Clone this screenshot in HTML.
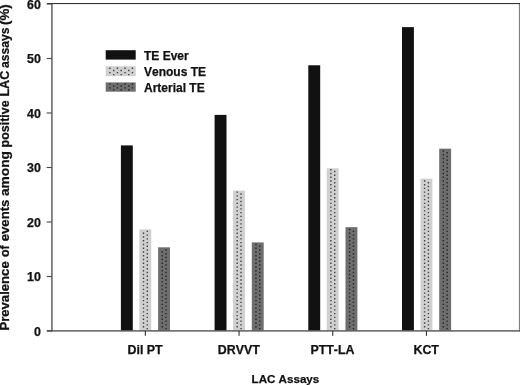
<!DOCTYPE html>
<html><head><meta charset="utf-8"><title>chart</title>
<style>
html,body{margin:0;padding:0;background:#fff;}
body{width:520px;height:385px;overflow:hidden;}
svg{display:block;filter:blur(0.35px);}
text{font-family:"Liberation Sans",sans-serif;font-weight:bold;fill:#111;stroke:#111;stroke-width:0.25px;font-kerning:none;}
.t{font-size:12px;}
</style></head><body>
<svg width="520" height="385" viewBox="0 0 520 385">
<rect width="520" height="385" fill="#fff"/>
<g id="bars">
<rect x="120.90" y="145.40" width="11.9" height="185.30" fill="#111"/>
<rect x="139.35" y="229.33" width="11.9" height="101.37" fill="#d0d0d0"/>
<rect x="158.10" y="247.31" width="11.9" height="83.38" fill="#6e6e6e"/>
<rect x="214.60" y="114.88" width="11.9" height="215.82" fill="#111"/>
<rect x="233.05" y="190.63" width="11.9" height="140.06" fill="#d0d0d0"/>
<rect x="251.80" y="242.41" width="11.9" height="88.29" fill="#6e6e6e"/>
<rect x="308.30" y="65.28" width="11.9" height="265.42" fill="#111"/>
<rect x="326.75" y="168.29" width="11.9" height="162.41" fill="#d0d0d0"/>
<rect x="345.50" y="227.15" width="11.9" height="103.55" fill="#6e6e6e"/>
<rect x="402.00" y="27.13" width="11.9" height="303.56" fill="#111"/>
<rect x="420.45" y="178.64" width="11.9" height="152.06" fill="#d0d0d0"/>
<rect x="439.20" y="148.67" width="11.9" height="182.03" fill="#6e6e6e"/>
</g>
<!-- legend swatches -->
<rect x="105.7" y="50.2" width="30" height="9.4" fill="#111"/>
<rect x="105.7" y="66.2" width="30" height="9.9" fill="#d0d0d0"/>
<rect x="105.7" y="82.4" width="30" height="9.3" fill="#6e6e6e"/>
<path fill="#404040" d="M142.80 326.10h1.4v1.4h-1.4zM142.80 322.36h1.4v1.4h-1.4zM142.80 318.62h1.4v1.4h-1.4zM142.80 314.88h1.4v1.4h-1.4zM142.80 311.14h1.4v1.4h-1.4zM142.80 307.40h1.4v1.4h-1.4zM142.80 303.66h1.4v1.4h-1.4zM142.80 299.92h1.4v1.4h-1.4zM142.80 296.18h1.4v1.4h-1.4zM142.80 292.44h1.4v1.4h-1.4zM142.80 288.70h1.4v1.4h-1.4zM142.80 284.96h1.4v1.4h-1.4zM142.80 281.22h1.4v1.4h-1.4zM142.80 277.48h1.4v1.4h-1.4zM142.80 273.74h1.4v1.4h-1.4zM142.80 270.00h1.4v1.4h-1.4zM142.80 266.26h1.4v1.4h-1.4zM142.80 262.52h1.4v1.4h-1.4zM142.80 258.78h1.4v1.4h-1.4zM142.80 255.04h1.4v1.4h-1.4zM142.80 251.30h1.4v1.4h-1.4zM142.80 247.56h1.4v1.4h-1.4zM142.80 243.82h1.4v1.4h-1.4zM142.80 240.08h1.4v1.4h-1.4zM142.80 236.34h1.4v1.4h-1.4zM142.80 232.60h1.4v1.4h-1.4zM146.60 327.90h1.4v1.4h-1.4zM146.60 324.16h1.4v1.4h-1.4zM146.60 320.42h1.4v1.4h-1.4zM146.60 316.68h1.4v1.4h-1.4zM146.60 312.94h1.4v1.4h-1.4zM146.60 309.20h1.4v1.4h-1.4zM146.60 305.46h1.4v1.4h-1.4zM146.60 301.72h1.4v1.4h-1.4zM146.60 297.98h1.4v1.4h-1.4zM146.60 294.24h1.4v1.4h-1.4zM146.60 290.50h1.4v1.4h-1.4zM146.60 286.76h1.4v1.4h-1.4zM146.60 283.02h1.4v1.4h-1.4zM146.60 279.28h1.4v1.4h-1.4zM146.60 275.54h1.4v1.4h-1.4zM146.60 271.80h1.4v1.4h-1.4zM146.60 268.06h1.4v1.4h-1.4zM146.60 264.32h1.4v1.4h-1.4zM146.60 260.58h1.4v1.4h-1.4zM146.60 256.84h1.4v1.4h-1.4zM146.60 253.10h1.4v1.4h-1.4zM146.60 249.36h1.4v1.4h-1.4zM146.60 245.62h1.4v1.4h-1.4zM146.60 241.88h1.4v1.4h-1.4zM146.60 238.14h1.4v1.4h-1.4zM146.60 234.40h1.4v1.4h-1.4zM146.60 230.66h1.4v1.4h-1.4zM236.50 326.10h1.4v1.4h-1.4zM236.50 322.36h1.4v1.4h-1.4zM236.50 318.62h1.4v1.4h-1.4zM236.50 314.88h1.4v1.4h-1.4zM236.50 311.14h1.4v1.4h-1.4zM236.50 307.40h1.4v1.4h-1.4zM236.50 303.66h1.4v1.4h-1.4zM236.50 299.92h1.4v1.4h-1.4zM236.50 296.18h1.4v1.4h-1.4zM236.50 292.44h1.4v1.4h-1.4zM236.50 288.70h1.4v1.4h-1.4zM236.50 284.96h1.4v1.4h-1.4zM236.50 281.22h1.4v1.4h-1.4zM236.50 277.48h1.4v1.4h-1.4zM236.50 273.74h1.4v1.4h-1.4zM236.50 270.00h1.4v1.4h-1.4zM236.50 266.26h1.4v1.4h-1.4zM236.50 262.52h1.4v1.4h-1.4zM236.50 258.78h1.4v1.4h-1.4zM236.50 255.04h1.4v1.4h-1.4zM236.50 251.30h1.4v1.4h-1.4zM236.50 247.56h1.4v1.4h-1.4zM236.50 243.82h1.4v1.4h-1.4zM236.50 240.08h1.4v1.4h-1.4zM236.50 236.34h1.4v1.4h-1.4zM236.50 232.60h1.4v1.4h-1.4zM236.50 228.86h1.4v1.4h-1.4zM236.50 225.12h1.4v1.4h-1.4zM236.50 221.38h1.4v1.4h-1.4zM236.50 217.64h1.4v1.4h-1.4zM236.50 213.90h1.4v1.4h-1.4zM236.50 210.16h1.4v1.4h-1.4zM236.50 206.42h1.4v1.4h-1.4zM236.50 202.68h1.4v1.4h-1.4zM236.50 198.94h1.4v1.4h-1.4zM236.50 195.20h1.4v1.4h-1.4zM236.50 191.46h1.4v1.4h-1.4zM240.30 327.90h1.4v1.4h-1.4zM240.30 324.16h1.4v1.4h-1.4zM240.30 320.42h1.4v1.4h-1.4zM240.30 316.68h1.4v1.4h-1.4zM240.30 312.94h1.4v1.4h-1.4zM240.30 309.20h1.4v1.4h-1.4zM240.30 305.46h1.4v1.4h-1.4zM240.30 301.72h1.4v1.4h-1.4zM240.30 297.98h1.4v1.4h-1.4zM240.30 294.24h1.4v1.4h-1.4zM240.30 290.50h1.4v1.4h-1.4zM240.30 286.76h1.4v1.4h-1.4zM240.30 283.02h1.4v1.4h-1.4zM240.30 279.28h1.4v1.4h-1.4zM240.30 275.54h1.4v1.4h-1.4zM240.30 271.80h1.4v1.4h-1.4zM240.30 268.06h1.4v1.4h-1.4zM240.30 264.32h1.4v1.4h-1.4zM240.30 260.58h1.4v1.4h-1.4zM240.30 256.84h1.4v1.4h-1.4zM240.30 253.10h1.4v1.4h-1.4zM240.30 249.36h1.4v1.4h-1.4zM240.30 245.62h1.4v1.4h-1.4zM240.30 241.88h1.4v1.4h-1.4zM240.30 238.14h1.4v1.4h-1.4zM240.30 234.40h1.4v1.4h-1.4zM240.30 230.66h1.4v1.4h-1.4zM240.30 226.92h1.4v1.4h-1.4zM240.30 223.18h1.4v1.4h-1.4zM240.30 219.44h1.4v1.4h-1.4zM240.30 215.70h1.4v1.4h-1.4zM240.30 211.96h1.4v1.4h-1.4zM240.30 208.22h1.4v1.4h-1.4zM240.30 204.48h1.4v1.4h-1.4zM240.30 200.74h1.4v1.4h-1.4zM240.30 197.00h1.4v1.4h-1.4zM240.30 193.26h1.4v1.4h-1.4zM330.20 326.10h1.4v1.4h-1.4zM330.20 322.36h1.4v1.4h-1.4zM330.20 318.62h1.4v1.4h-1.4zM330.20 314.88h1.4v1.4h-1.4zM330.20 311.14h1.4v1.4h-1.4zM330.20 307.40h1.4v1.4h-1.4zM330.20 303.66h1.4v1.4h-1.4zM330.20 299.92h1.4v1.4h-1.4zM330.20 296.18h1.4v1.4h-1.4zM330.20 292.44h1.4v1.4h-1.4zM330.20 288.70h1.4v1.4h-1.4zM330.20 284.96h1.4v1.4h-1.4zM330.20 281.22h1.4v1.4h-1.4zM330.20 277.48h1.4v1.4h-1.4zM330.20 273.74h1.4v1.4h-1.4zM330.20 270.00h1.4v1.4h-1.4zM330.20 266.26h1.4v1.4h-1.4zM330.20 262.52h1.4v1.4h-1.4zM330.20 258.78h1.4v1.4h-1.4zM330.20 255.04h1.4v1.4h-1.4zM330.20 251.30h1.4v1.4h-1.4zM330.20 247.56h1.4v1.4h-1.4zM330.20 243.82h1.4v1.4h-1.4zM330.20 240.08h1.4v1.4h-1.4zM330.20 236.34h1.4v1.4h-1.4zM330.20 232.60h1.4v1.4h-1.4zM330.20 228.86h1.4v1.4h-1.4zM330.20 225.12h1.4v1.4h-1.4zM330.20 221.38h1.4v1.4h-1.4zM330.20 217.64h1.4v1.4h-1.4zM330.20 213.90h1.4v1.4h-1.4zM330.20 210.16h1.4v1.4h-1.4zM330.20 206.42h1.4v1.4h-1.4zM330.20 202.68h1.4v1.4h-1.4zM330.20 198.94h1.4v1.4h-1.4zM330.20 195.20h1.4v1.4h-1.4zM330.20 191.46h1.4v1.4h-1.4zM330.20 187.72h1.4v1.4h-1.4zM330.20 183.98h1.4v1.4h-1.4zM330.20 180.24h1.4v1.4h-1.4zM330.20 176.50h1.4v1.4h-1.4zM330.20 172.76h1.4v1.4h-1.4zM330.20 169.02h1.4v1.4h-1.4zM334.00 327.90h1.4v1.4h-1.4zM334.00 324.16h1.4v1.4h-1.4zM334.00 320.42h1.4v1.4h-1.4zM334.00 316.68h1.4v1.4h-1.4zM334.00 312.94h1.4v1.4h-1.4zM334.00 309.20h1.4v1.4h-1.4zM334.00 305.46h1.4v1.4h-1.4zM334.00 301.72h1.4v1.4h-1.4zM334.00 297.98h1.4v1.4h-1.4zM334.00 294.24h1.4v1.4h-1.4zM334.00 290.50h1.4v1.4h-1.4zM334.00 286.76h1.4v1.4h-1.4zM334.00 283.02h1.4v1.4h-1.4zM334.00 279.28h1.4v1.4h-1.4zM334.00 275.54h1.4v1.4h-1.4zM334.00 271.80h1.4v1.4h-1.4zM334.00 268.06h1.4v1.4h-1.4zM334.00 264.32h1.4v1.4h-1.4zM334.00 260.58h1.4v1.4h-1.4zM334.00 256.84h1.4v1.4h-1.4zM334.00 253.10h1.4v1.4h-1.4zM334.00 249.36h1.4v1.4h-1.4zM334.00 245.62h1.4v1.4h-1.4zM334.00 241.88h1.4v1.4h-1.4zM334.00 238.14h1.4v1.4h-1.4zM334.00 234.40h1.4v1.4h-1.4zM334.00 230.66h1.4v1.4h-1.4zM334.00 226.92h1.4v1.4h-1.4zM334.00 223.18h1.4v1.4h-1.4zM334.00 219.44h1.4v1.4h-1.4zM334.00 215.70h1.4v1.4h-1.4zM334.00 211.96h1.4v1.4h-1.4zM334.00 208.22h1.4v1.4h-1.4zM334.00 204.48h1.4v1.4h-1.4zM334.00 200.74h1.4v1.4h-1.4zM334.00 197.00h1.4v1.4h-1.4zM334.00 193.26h1.4v1.4h-1.4zM334.00 189.52h1.4v1.4h-1.4zM334.00 185.78h1.4v1.4h-1.4zM334.00 182.04h1.4v1.4h-1.4zM334.00 178.30h1.4v1.4h-1.4zM334.00 174.56h1.4v1.4h-1.4zM334.00 170.82h1.4v1.4h-1.4zM423.90 326.10h1.4v1.4h-1.4zM423.90 322.36h1.4v1.4h-1.4zM423.90 318.62h1.4v1.4h-1.4zM423.90 314.88h1.4v1.4h-1.4zM423.90 311.14h1.4v1.4h-1.4zM423.90 307.40h1.4v1.4h-1.4zM423.90 303.66h1.4v1.4h-1.4zM423.90 299.92h1.4v1.4h-1.4zM423.90 296.18h1.4v1.4h-1.4zM423.90 292.44h1.4v1.4h-1.4zM423.90 288.70h1.4v1.4h-1.4zM423.90 284.96h1.4v1.4h-1.4zM423.90 281.22h1.4v1.4h-1.4zM423.90 277.48h1.4v1.4h-1.4zM423.90 273.74h1.4v1.4h-1.4zM423.90 270.00h1.4v1.4h-1.4zM423.90 266.26h1.4v1.4h-1.4zM423.90 262.52h1.4v1.4h-1.4zM423.90 258.78h1.4v1.4h-1.4zM423.90 255.04h1.4v1.4h-1.4zM423.90 251.30h1.4v1.4h-1.4zM423.90 247.56h1.4v1.4h-1.4zM423.90 243.82h1.4v1.4h-1.4zM423.90 240.08h1.4v1.4h-1.4zM423.90 236.34h1.4v1.4h-1.4zM423.90 232.60h1.4v1.4h-1.4zM423.90 228.86h1.4v1.4h-1.4zM423.90 225.12h1.4v1.4h-1.4zM423.90 221.38h1.4v1.4h-1.4zM423.90 217.64h1.4v1.4h-1.4zM423.90 213.90h1.4v1.4h-1.4zM423.90 210.16h1.4v1.4h-1.4zM423.90 206.42h1.4v1.4h-1.4zM423.90 202.68h1.4v1.4h-1.4zM423.90 198.94h1.4v1.4h-1.4zM423.90 195.20h1.4v1.4h-1.4zM423.90 191.46h1.4v1.4h-1.4zM423.90 187.72h1.4v1.4h-1.4zM423.90 183.98h1.4v1.4h-1.4zM423.90 180.24h1.4v1.4h-1.4zM427.70 327.90h1.4v1.4h-1.4zM427.70 324.16h1.4v1.4h-1.4zM427.70 320.42h1.4v1.4h-1.4zM427.70 316.68h1.4v1.4h-1.4zM427.70 312.94h1.4v1.4h-1.4zM427.70 309.20h1.4v1.4h-1.4zM427.70 305.46h1.4v1.4h-1.4zM427.70 301.72h1.4v1.4h-1.4zM427.70 297.98h1.4v1.4h-1.4zM427.70 294.24h1.4v1.4h-1.4zM427.70 290.50h1.4v1.4h-1.4zM427.70 286.76h1.4v1.4h-1.4zM427.70 283.02h1.4v1.4h-1.4zM427.70 279.28h1.4v1.4h-1.4zM427.70 275.54h1.4v1.4h-1.4zM427.70 271.80h1.4v1.4h-1.4zM427.70 268.06h1.4v1.4h-1.4zM427.70 264.32h1.4v1.4h-1.4zM427.70 260.58h1.4v1.4h-1.4zM427.70 256.84h1.4v1.4h-1.4zM427.70 253.10h1.4v1.4h-1.4zM427.70 249.36h1.4v1.4h-1.4zM427.70 245.62h1.4v1.4h-1.4zM427.70 241.88h1.4v1.4h-1.4zM427.70 238.14h1.4v1.4h-1.4zM427.70 234.40h1.4v1.4h-1.4zM427.70 230.66h1.4v1.4h-1.4zM427.70 226.92h1.4v1.4h-1.4zM427.70 223.18h1.4v1.4h-1.4zM427.70 219.44h1.4v1.4h-1.4zM427.70 215.70h1.4v1.4h-1.4zM427.70 211.96h1.4v1.4h-1.4zM427.70 208.22h1.4v1.4h-1.4zM427.70 204.48h1.4v1.4h-1.4zM427.70 200.74h1.4v1.4h-1.4zM427.70 197.00h1.4v1.4h-1.4zM427.70 193.26h1.4v1.4h-1.4zM427.70 189.52h1.4v1.4h-1.4zM427.70 185.78h1.4v1.4h-1.4zM427.70 182.04h1.4v1.4h-1.4zM109.20 67.50h1.4v1.4h-1.4zM116.75 67.50h1.4v1.4h-1.4zM124.30 67.50h1.4v1.4h-1.4zM131.75 67.50h1.4v1.4h-1.4zM113.00 69.80h1.4v1.4h-1.4zM120.55 69.80h1.4v1.4h-1.4zM128.05 69.80h1.4v1.4h-1.4zM109.20 71.90h1.4v1.4h-1.4zM116.75 71.90h1.4v1.4h-1.4zM124.30 71.90h1.4v1.4h-1.4zM131.75 71.90h1.4v1.4h-1.4zM113.00 73.90h1.4v1.4h-1.4zM120.55 73.90h1.4v1.4h-1.4zM128.05 73.90h1.4v1.4h-1.4z"/>
<path fill="#262626" d="M161.55 326.10h1.4v1.4h-1.4zM161.55 322.36h1.4v1.4h-1.4zM161.55 318.62h1.4v1.4h-1.4zM161.55 314.88h1.4v1.4h-1.4zM161.55 311.14h1.4v1.4h-1.4zM161.55 307.40h1.4v1.4h-1.4zM161.55 303.66h1.4v1.4h-1.4zM161.55 299.92h1.4v1.4h-1.4zM161.55 296.18h1.4v1.4h-1.4zM161.55 292.44h1.4v1.4h-1.4zM161.55 288.70h1.4v1.4h-1.4zM161.55 284.96h1.4v1.4h-1.4zM161.55 281.22h1.4v1.4h-1.4zM161.55 277.48h1.4v1.4h-1.4zM161.55 273.74h1.4v1.4h-1.4zM161.55 270.00h1.4v1.4h-1.4zM161.55 266.26h1.4v1.4h-1.4zM161.55 262.52h1.4v1.4h-1.4zM161.55 258.78h1.4v1.4h-1.4zM161.55 255.04h1.4v1.4h-1.4zM161.55 251.30h1.4v1.4h-1.4zM165.35 327.90h1.4v1.4h-1.4zM165.35 324.16h1.4v1.4h-1.4zM165.35 320.42h1.4v1.4h-1.4zM165.35 316.68h1.4v1.4h-1.4zM165.35 312.94h1.4v1.4h-1.4zM165.35 309.20h1.4v1.4h-1.4zM165.35 305.46h1.4v1.4h-1.4zM165.35 301.72h1.4v1.4h-1.4zM165.35 297.98h1.4v1.4h-1.4zM165.35 294.24h1.4v1.4h-1.4zM165.35 290.50h1.4v1.4h-1.4zM165.35 286.76h1.4v1.4h-1.4zM165.35 283.02h1.4v1.4h-1.4zM165.35 279.28h1.4v1.4h-1.4zM165.35 275.54h1.4v1.4h-1.4zM165.35 271.80h1.4v1.4h-1.4zM165.35 268.06h1.4v1.4h-1.4zM165.35 264.32h1.4v1.4h-1.4zM165.35 260.58h1.4v1.4h-1.4zM165.35 256.84h1.4v1.4h-1.4zM165.35 253.10h1.4v1.4h-1.4zM165.35 249.36h1.4v1.4h-1.4zM255.25 326.10h1.4v1.4h-1.4zM255.25 322.36h1.4v1.4h-1.4zM255.25 318.62h1.4v1.4h-1.4zM255.25 314.88h1.4v1.4h-1.4zM255.25 311.14h1.4v1.4h-1.4zM255.25 307.40h1.4v1.4h-1.4zM255.25 303.66h1.4v1.4h-1.4zM255.25 299.92h1.4v1.4h-1.4zM255.25 296.18h1.4v1.4h-1.4zM255.25 292.44h1.4v1.4h-1.4zM255.25 288.70h1.4v1.4h-1.4zM255.25 284.96h1.4v1.4h-1.4zM255.25 281.22h1.4v1.4h-1.4zM255.25 277.48h1.4v1.4h-1.4zM255.25 273.74h1.4v1.4h-1.4zM255.25 270.00h1.4v1.4h-1.4zM255.25 266.26h1.4v1.4h-1.4zM255.25 262.52h1.4v1.4h-1.4zM255.25 258.78h1.4v1.4h-1.4zM255.25 255.04h1.4v1.4h-1.4zM255.25 251.30h1.4v1.4h-1.4zM255.25 247.56h1.4v1.4h-1.4zM255.25 243.82h1.4v1.4h-1.4zM259.05 327.90h1.4v1.4h-1.4zM259.05 324.16h1.4v1.4h-1.4zM259.05 320.42h1.4v1.4h-1.4zM259.05 316.68h1.4v1.4h-1.4zM259.05 312.94h1.4v1.4h-1.4zM259.05 309.20h1.4v1.4h-1.4zM259.05 305.46h1.4v1.4h-1.4zM259.05 301.72h1.4v1.4h-1.4zM259.05 297.98h1.4v1.4h-1.4zM259.05 294.24h1.4v1.4h-1.4zM259.05 290.50h1.4v1.4h-1.4zM259.05 286.76h1.4v1.4h-1.4zM259.05 283.02h1.4v1.4h-1.4zM259.05 279.28h1.4v1.4h-1.4zM259.05 275.54h1.4v1.4h-1.4zM259.05 271.80h1.4v1.4h-1.4zM259.05 268.06h1.4v1.4h-1.4zM259.05 264.32h1.4v1.4h-1.4zM259.05 260.58h1.4v1.4h-1.4zM259.05 256.84h1.4v1.4h-1.4zM259.05 253.10h1.4v1.4h-1.4zM259.05 249.36h1.4v1.4h-1.4zM259.05 245.62h1.4v1.4h-1.4zM348.95 326.10h1.4v1.4h-1.4zM348.95 322.36h1.4v1.4h-1.4zM348.95 318.62h1.4v1.4h-1.4zM348.95 314.88h1.4v1.4h-1.4zM348.95 311.14h1.4v1.4h-1.4zM348.95 307.40h1.4v1.4h-1.4zM348.95 303.66h1.4v1.4h-1.4zM348.95 299.92h1.4v1.4h-1.4zM348.95 296.18h1.4v1.4h-1.4zM348.95 292.44h1.4v1.4h-1.4zM348.95 288.70h1.4v1.4h-1.4zM348.95 284.96h1.4v1.4h-1.4zM348.95 281.22h1.4v1.4h-1.4zM348.95 277.48h1.4v1.4h-1.4zM348.95 273.74h1.4v1.4h-1.4zM348.95 270.00h1.4v1.4h-1.4zM348.95 266.26h1.4v1.4h-1.4zM348.95 262.52h1.4v1.4h-1.4zM348.95 258.78h1.4v1.4h-1.4zM348.95 255.04h1.4v1.4h-1.4zM348.95 251.30h1.4v1.4h-1.4zM348.95 247.56h1.4v1.4h-1.4zM348.95 243.82h1.4v1.4h-1.4zM348.95 240.08h1.4v1.4h-1.4zM348.95 236.34h1.4v1.4h-1.4zM348.95 232.60h1.4v1.4h-1.4zM348.95 228.86h1.4v1.4h-1.4zM352.75 327.90h1.4v1.4h-1.4zM352.75 324.16h1.4v1.4h-1.4zM352.75 320.42h1.4v1.4h-1.4zM352.75 316.68h1.4v1.4h-1.4zM352.75 312.94h1.4v1.4h-1.4zM352.75 309.20h1.4v1.4h-1.4zM352.75 305.46h1.4v1.4h-1.4zM352.75 301.72h1.4v1.4h-1.4zM352.75 297.98h1.4v1.4h-1.4zM352.75 294.24h1.4v1.4h-1.4zM352.75 290.50h1.4v1.4h-1.4zM352.75 286.76h1.4v1.4h-1.4zM352.75 283.02h1.4v1.4h-1.4zM352.75 279.28h1.4v1.4h-1.4zM352.75 275.54h1.4v1.4h-1.4zM352.75 271.80h1.4v1.4h-1.4zM352.75 268.06h1.4v1.4h-1.4zM352.75 264.32h1.4v1.4h-1.4zM352.75 260.58h1.4v1.4h-1.4zM352.75 256.84h1.4v1.4h-1.4zM352.75 253.10h1.4v1.4h-1.4zM352.75 249.36h1.4v1.4h-1.4zM352.75 245.62h1.4v1.4h-1.4zM352.75 241.88h1.4v1.4h-1.4zM352.75 238.14h1.4v1.4h-1.4zM352.75 234.40h1.4v1.4h-1.4zM352.75 230.66h1.4v1.4h-1.4zM442.65 326.10h1.4v1.4h-1.4zM442.65 322.36h1.4v1.4h-1.4zM442.65 318.62h1.4v1.4h-1.4zM442.65 314.88h1.4v1.4h-1.4zM442.65 311.14h1.4v1.4h-1.4zM442.65 307.40h1.4v1.4h-1.4zM442.65 303.66h1.4v1.4h-1.4zM442.65 299.92h1.4v1.4h-1.4zM442.65 296.18h1.4v1.4h-1.4zM442.65 292.44h1.4v1.4h-1.4zM442.65 288.70h1.4v1.4h-1.4zM442.65 284.96h1.4v1.4h-1.4zM442.65 281.22h1.4v1.4h-1.4zM442.65 277.48h1.4v1.4h-1.4zM442.65 273.74h1.4v1.4h-1.4zM442.65 270.00h1.4v1.4h-1.4zM442.65 266.26h1.4v1.4h-1.4zM442.65 262.52h1.4v1.4h-1.4zM442.65 258.78h1.4v1.4h-1.4zM442.65 255.04h1.4v1.4h-1.4zM442.65 251.30h1.4v1.4h-1.4zM442.65 247.56h1.4v1.4h-1.4zM442.65 243.82h1.4v1.4h-1.4zM442.65 240.08h1.4v1.4h-1.4zM442.65 236.34h1.4v1.4h-1.4zM442.65 232.60h1.4v1.4h-1.4zM442.65 228.86h1.4v1.4h-1.4zM442.65 225.12h1.4v1.4h-1.4zM442.65 221.38h1.4v1.4h-1.4zM442.65 217.64h1.4v1.4h-1.4zM442.65 213.90h1.4v1.4h-1.4zM442.65 210.16h1.4v1.4h-1.4zM442.65 206.42h1.4v1.4h-1.4zM442.65 202.68h1.4v1.4h-1.4zM442.65 198.94h1.4v1.4h-1.4zM442.65 195.20h1.4v1.4h-1.4zM442.65 191.46h1.4v1.4h-1.4zM442.65 187.72h1.4v1.4h-1.4zM442.65 183.98h1.4v1.4h-1.4zM442.65 180.24h1.4v1.4h-1.4zM442.65 176.50h1.4v1.4h-1.4zM442.65 172.76h1.4v1.4h-1.4zM442.65 169.02h1.4v1.4h-1.4zM442.65 165.28h1.4v1.4h-1.4zM442.65 161.54h1.4v1.4h-1.4zM442.65 157.80h1.4v1.4h-1.4zM442.65 154.06h1.4v1.4h-1.4zM442.65 150.32h1.4v1.4h-1.4zM446.45 327.90h1.4v1.4h-1.4zM446.45 324.16h1.4v1.4h-1.4zM446.45 320.42h1.4v1.4h-1.4zM446.45 316.68h1.4v1.4h-1.4zM446.45 312.94h1.4v1.4h-1.4zM446.45 309.20h1.4v1.4h-1.4zM446.45 305.46h1.4v1.4h-1.4zM446.45 301.72h1.4v1.4h-1.4zM446.45 297.98h1.4v1.4h-1.4zM446.45 294.24h1.4v1.4h-1.4zM446.45 290.50h1.4v1.4h-1.4zM446.45 286.76h1.4v1.4h-1.4zM446.45 283.02h1.4v1.4h-1.4zM446.45 279.28h1.4v1.4h-1.4zM446.45 275.54h1.4v1.4h-1.4zM446.45 271.80h1.4v1.4h-1.4zM446.45 268.06h1.4v1.4h-1.4zM446.45 264.32h1.4v1.4h-1.4zM446.45 260.58h1.4v1.4h-1.4zM446.45 256.84h1.4v1.4h-1.4zM446.45 253.10h1.4v1.4h-1.4zM446.45 249.36h1.4v1.4h-1.4zM446.45 245.62h1.4v1.4h-1.4zM446.45 241.88h1.4v1.4h-1.4zM446.45 238.14h1.4v1.4h-1.4zM446.45 234.40h1.4v1.4h-1.4zM446.45 230.66h1.4v1.4h-1.4zM446.45 226.92h1.4v1.4h-1.4zM446.45 223.18h1.4v1.4h-1.4zM446.45 219.44h1.4v1.4h-1.4zM446.45 215.70h1.4v1.4h-1.4zM446.45 211.96h1.4v1.4h-1.4zM446.45 208.22h1.4v1.4h-1.4zM446.45 204.48h1.4v1.4h-1.4zM446.45 200.74h1.4v1.4h-1.4zM446.45 197.00h1.4v1.4h-1.4zM446.45 193.26h1.4v1.4h-1.4zM446.45 189.52h1.4v1.4h-1.4zM446.45 185.78h1.4v1.4h-1.4zM446.45 182.04h1.4v1.4h-1.4zM446.45 178.30h1.4v1.4h-1.4zM446.45 174.56h1.4v1.4h-1.4zM446.45 170.82h1.4v1.4h-1.4zM446.45 167.08h1.4v1.4h-1.4zM446.45 163.34h1.4v1.4h-1.4zM446.45 159.60h1.4v1.4h-1.4zM446.45 155.86h1.4v1.4h-1.4zM446.45 152.12h1.4v1.4h-1.4zM109.20 83.30h1.4v1.4h-1.4zM116.75 83.30h1.4v1.4h-1.4zM124.30 83.30h1.4v1.4h-1.4zM131.75 83.30h1.4v1.4h-1.4zM113.00 85.30h1.4v1.4h-1.4zM120.55 85.30h1.4v1.4h-1.4zM128.05 85.30h1.4v1.4h-1.4zM109.20 87.20h1.4v1.4h-1.4zM116.75 87.20h1.4v1.4h-1.4zM124.30 87.20h1.4v1.4h-1.4zM131.75 87.20h1.4v1.4h-1.4zM113.00 89.10h1.4v1.4h-1.4zM120.55 89.10h1.4v1.4h-1.4zM128.05 89.10h1.4v1.4h-1.4z"/>
<!-- frame -->
<rect x="51" y="3" width="1.8" height="328.5" fill="#7a7a7a"/>
<rect x="518.9" y="3" width="1.1" height="328.5" fill="#808080"/>
<rect x="47" y="3" width="473" height="1.1" fill="#333"/>
<rect x="47" y="330.2" width="473" height="1.4" fill="#555"/>
<rect x="46.7" y="330.45" width="5" height="1.1" fill="#444"/>
<text x="40.9" y="335.60" text-anchor="end" class="t" style="font-size:12.4px">0</text>
<rect x="46.7" y="275.95" width="5" height="1.1" fill="#444"/>
<text x="40.9" y="281.10" text-anchor="end" class="t" style="font-size:12.4px">10</text>
<rect x="46.7" y="221.45" width="5" height="1.1" fill="#444"/>
<text x="40.9" y="226.60" text-anchor="end" class="t" style="font-size:12.4px">20</text>
<rect x="46.7" y="166.95" width="5" height="1.1" fill="#444"/>
<text x="40.9" y="172.10" text-anchor="end" class="t" style="font-size:12.4px">30</text>
<rect x="46.7" y="112.45" width="5" height="1.1" fill="#444"/>
<text x="40.9" y="117.60" text-anchor="end" class="t" style="font-size:12.4px">40</text>
<rect x="46.7" y="57.95" width="5" height="1.1" fill="#444"/>
<text x="40.9" y="63.10" text-anchor="end" class="t" style="font-size:12.4px">50</text>
<rect x="46.7" y="3.45" width="5" height="1.1" fill="#444"/>
<text x="40.9" y="8.60" text-anchor="end" class="t" style="font-size:12.4px">60</text>
<rect x="144.80" y="331" width="1.1" height="4.8" fill="#333"/>
<text x="145.10" y="354.0" text-anchor="middle" class="t" style="font-size:12.4px">Dil PT</text>
<rect x="238.50" y="331" width="1.1" height="4.8" fill="#333"/>
<text x="238.80" y="354.0" text-anchor="middle" class="t" style="font-size:12.4px">DRVVT</text>
<rect x="332.20" y="331" width="1.1" height="4.8" fill="#333"/>
<text x="332.50" y="354.0" text-anchor="middle" class="t" style="font-size:12.4px">PTT-LA</text>
<rect x="425.90" y="331" width="1.1" height="4.8" fill="#333"/>
<text x="426.20" y="354.0" text-anchor="middle" class="t" style="font-size:12.4px">KCT</text>
<text x="144" y="59.7" class="t">TE Ever</text>
<text x="144" y="76" class="t">Venous TE</text>
<text x="144" y="92.1" class="t">Arterial TE</text>
<!-- titles -->
<text x="285.4" y="382.8" text-anchor="middle" style="font-size:11.6px">LAC Assays</text>
<text transform="translate(8.6,330.60) rotate(-90)" style="font-size:12px" textLength="69.30" lengthAdjust="spacingAndGlyphs">Prevalence</text>
<text transform="translate(8.6,256.90) rotate(-90)" style="font-size:12px" textLength="11.60" lengthAdjust="spacingAndGlyphs">of</text>
<text transform="translate(8.6,241.30) rotate(-90)" style="font-size:12px" textLength="41.70" lengthAdjust="spacingAndGlyphs">events</text>
<text transform="translate(8.6,196.10) rotate(-90)" style="font-size:12px" textLength="45.10" lengthAdjust="spacingAndGlyphs">among</text>
<text transform="translate(8.6,147.40) rotate(-90)" style="font-size:12px" textLength="47.00" lengthAdjust="spacingAndGlyphs">positive</text>
<text transform="translate(8.6,96.60) rotate(-90)" style="font-size:12px" textLength="25.80" lengthAdjust="spacingAndGlyphs">LAC</text>
<text transform="translate(8.6,68.00) rotate(-90)" style="font-size:12px" textLength="40.40" lengthAdjust="spacingAndGlyphs">assays</text>
<text transform="translate(8.6,24.90) rotate(-90)" style="font-size:12px" textLength="20.70" lengthAdjust="spacingAndGlyphs">(%)</text>
</svg>
</body></html>
